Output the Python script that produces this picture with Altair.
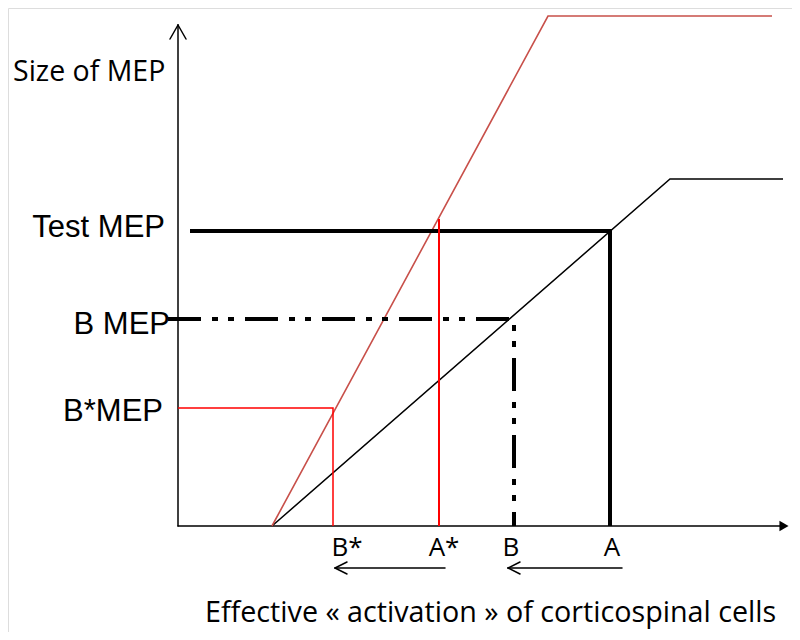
import altair as alt
import pandas as pd

# ---- schematic values (units: activation on x, MEP size on y; origin at the axes crossing) ----
base_curve_x = [94, 492, 605]      # black recruitment curve
base_curve_y = [0, 347, 347]
fac_curve_x = [94, 370, 594]       # red (facilitated) recruitment curve
fac_curve_y = [0, 510, 510]

test_mep = 295
A_val = 432
b_mep = 207
B_val = 336
bstar_mep = 118
Bstar_val = 155
Astar_val = 261
Astar_top = 307

x_axis_end = 604
y_axis_end = 501

tick_names = ["B*", "A*", "B", "A"]
tick_pos = [169, 266, 333, 434]

level_names = ["Test MEP", "B MEP", "B*MEP"]
level_right = [-13, -8, -15]
level_base = [289, 192, 105]

shift_arrows_from = [267, 444]
shift_arrows_to = [157, 330]
shift_arrow_y = -42

W, H = 784, 624
xs = alt.Scale(domain=[-170, 614], range=[0, W])
ys = alt.Scale(domain=[-106, 518], range=[H, 0])


def poly(xv, yv, color, width, dash=None, join="miter"):
    df = pd.DataFrame({"x": xv, "y": yv, "o": list(range(len(xv)))})
    kw = dict(color=color, strokeWidth=width, strokeJoin=join, strokeCap="butt")
    if dash:
        kw["strokeDash"] = dash
    return alt.Chart(df).mark_line(**kw).encode(
        x=alt.X("x:Q", scale=xs, axis=None),
        y=alt.Y("y:Q", scale=ys, axis=None),
        order="o:O",
    )


def segs(x1, y1, x2, y2, color="black", width=1.5):
    df = pd.DataFrame({"x": x1, "y": y1, "x2": x2, "y2": y2})
    return alt.Chart(df).mark_rule(color=color, strokeWidth=width, strokeCap="round").encode(
        x=alt.X("x:Q", scale=xs, axis=None),
        y=alt.Y("y:Q", scale=ys, axis=None),
        x2="x2:Q",
        y2="y2:Q",
    )


layers = []
# axes
layers.append(segs([0, 0], [0, 0], [x_axis_end, 0], [0, y_axis_end], width=1.5))
# y-axis open arrow head
layers.append(segs([0, 0], [y_axis_end, y_axis_end], [-8, 8], [y_axis_end - 14, y_axis_end - 14], width=1.5))
# x-axis filled arrow head
layers.append(
    alt.Chart(pd.DataFrame({"x": [x_axis_end + 2], "y": [0]}))
    .mark_point(shape="triangle-right", filled=True, color="black", size=110, opacity=1)
    .encode(x=alt.X("x:Q", scale=xs, axis=None), y=alt.Y("y:Q", scale=ys, axis=None))
)

# curves
layers.append(poly(base_curve_x, base_curve_y, "black", 1.5))
layers.append(poly(fac_curve_x, fac_curve_y, "#c8504a", 1.6))

# Test MEP (thick solid)
layers.append(poly([12, A_val, A_val], [test_mep, test_mep, 0], "black", 4))
# B MEP (dash-dot-dot)
layers.append(poly([-10, B_val, B_val], [b_mep, b_mep, 0], "black", 4, dash=[33, 11, 6, 10, 6, 11]))
# B*MEP (red)
layers.append(poly([0, Bstar_val, Bstar_val], [bstar_mep, bstar_mep, 0], "#ff0000", 1.5))
# A* (red vertical)
layers.append(poly([Astar_val, Astar_val], [Astar_top, 0], "#ff0000", 2))

# shift arrows
layers.append(segs(shift_arrows_from, [shift_arrow_y] * 2, shift_arrows_to, [shift_arrow_y] * 2, width=1.5))
layers.append(segs(shift_arrows_to, [shift_arrow_y] * 2, [v + 12 for v in shift_arrows_to], [shift_arrow_y + 6] * 2, width=1.5))
layers.append(segs(shift_arrows_to, [shift_arrow_y] * 2, [v + 12 for v in shift_arrows_to], [shift_arrow_y - 6] * 2, width=1.5))

# tick labels
layers.append(
    alt.Chart(pd.DataFrame({"x": tick_pos, "y": [-30] * 4, "t": tick_names}))
    .mark_text(font="Open Sans", fontSize=26, align="center", baseline="alphabetic", color="black")
    .encode(x=alt.X("x:Q", scale=xs, axis=None), y=alt.Y("y:Q", scale=ys, axis=None), text="t:N")
)
# level labels
layers.append(
    alt.Chart(pd.DataFrame({"x": level_right, "y": level_base, "t": level_names}))
    .mark_text(font="Liberation Sans", fontSize=31, align="right", baseline="alphabetic", color="black")
    .encode(x=alt.X("x:Q", scale=xs, axis=None), y=alt.Y("y:Q", scale=ys, axis=None), text="t:N")
)
# axis titles
layers.append(
    alt.Chart(pd.DataFrame({"x": [-165], "y": [445], "t": ["Size of MEP"]}))
    .mark_text(font="Open Sans", fontSize=28.5, align="left", baseline="alphabetic", color="black")
    .encode(x=alt.X("x:Q", scale=xs, axis=None), y=alt.Y("y:Q", scale=ys, axis=None), text="t:N")
)
layers.append(
    alt.Chart(pd.DataFrame({"x": [27], "y": [-96], "t": ["Effective « activation » of corticospinal cells"]}))
    .mark_text(font="Open Sans", fontSize=28.7, align="left", baseline="alphabetic", color="black")
    .encode(x=alt.X("x:Q", scale=xs, axis=None), y=alt.Y("y:Q", scale=ys, axis=None), text="t:N")
)

chart = (
    alt.layer(*layers)
    .properties(width=W, height=H, autosize=alt.AutoSizeParams(type="none"), padding=0)
    .configure_view(stroke="transparent", strokeWidth=0)
    .configure(background="white")
)

chart.save("out.html", embed_options={"renderer": "svg", "actions": False})
